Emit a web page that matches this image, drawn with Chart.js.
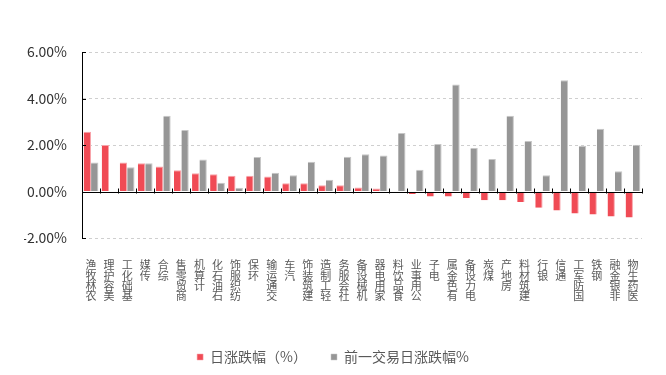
<!DOCTYPE html>
<html>
<head>
<meta charset="utf-8">
<script src="https://cdn.jsdelivr.net/npm/chart.js@4/dist/chart.umd.min.js"></script>
<style>
  html, body { margin:0; padding:0; background:#fff; }
  #wrap { width:666px; height:375px; }
</style>
</head>
<body>
<div id="wrap"><canvas id="c"></canvas></div>
<script>
// 行业涨跌幅 — 当日 vs 前一交易日
const CATEGORIES = ['农林牧渔','美容护理','基础化工','传媒','综合','商贸零售','计算机','石油石化',
  '纺织服饰','环保','交通运输','汽车','建筑装饰','轻工制造','社会服务','机械设备','家用电器',
  '食品饮料','公用事业','电子','有色金属','电力设备','煤炭','房地产','建筑材料','银行','通信',
  '国防军工','钢铁','非银金融','医药生物'];

const DAY_CHANGE = [2.57, 2.00, 1.25, 1.21, 1.08, 0.91, 0.78, 0.74, 0.68, 0.68, 0.65, 0.35,
  0.35, 0.27, 0.27, 0.17, 0.13, -0.06, -0.11, -0.21, -0.21, -0.28, -0.38, -0.38, -0.45,
  -0.70, -0.82, -0.95, -0.99, -1.08, -1.12];

const PREV_CHANGE = [1.25, 0, 1.04, 1.21, 3.26, 2.65, 1.38, 0.38, 0.16, 1.48, 0.81, 0.70,
  1.28, 0.51, 1.50, 1.60, 1.55, 2.52, 0.94, 2.04, 4.60, 1.87, 1.40, 3.26, 2.17,
  0.70, 4.79, 1.97, 2.70, 0.87, 2.01];

const Y_TICKS = [-2, 0, 2, 4, 6];

const FONT = "'Noto Sans CJK SC', 'Noto Sans', sans-serif";

// labels read bottom-to-top with upright characters -> one char per line, reversed
const stackedLabels = CATEGORIES.map(s => s.split('').reverse());

// zero line + small category ticks on it
const zeroAxis = {
  id: 'zeroAxis',
  afterDatasetsDraw(chart) {
    const {ctx, scales:{x, y}, chartArea} = chart;
    const y0 = Math.round(y.getPixelForValue(0)) + 0.5;
    ctx.save();
    ctx.strokeStyle = '#000';
    ctx.lineWidth = 1;
    ctx.beginPath();
    ctx.moveTo(chartArea.left, y0);
    ctx.lineTo(chartArea.right, y0);
    const n = CATEGORIES.length;
    for (let i = 1; i <= n; i++) {
      const px = i < n
        ? (x.getPixelForTick(i - 1) + x.getPixelForTick(i)) / 2
        : chartArea.right;
      const xx = Math.round(px) + 0.5;
      ctx.moveTo(xx, y0 - 4);
      ctx.lineTo(xx, y0 + 1);
    }
    // short inward ticks on the y axis
    Y_TICKS.forEach(v => {
      const yy = Math.round(y.getPixelForValue(v)) + 0.5;
      ctx.moveTo(chartArea.left, yy);
      ctx.lineTo(chartArea.left + 4, yy);
    });
    ctx.stroke();
    ctx.restore();
  }
};

new Chart(document.getElementById('c'), {
  type: 'bar',
  data: {
    labels: stackedLabels,
    datasets: [
      { label: '日涨跌幅（%）', data: DAY_CHANGE,
        backgroundColor: '#F04B55', borderColor: '#F8A3A9',
        borderWidth: { top: 1, right: 1 }, borderSkipped: false },
      { label: '前一交易日涨跌幅%', data: PREV_CHANGE,
        backgroundColor: '#969696', borderColor: '#C6C6C6',
        borderWidth: { top: 1, right: 1 }, borderSkipped: false }
    ]
  },
  options: {
    responsive: true,
    maintainAspectRatio: false,
    animation: false,
    categoryPercentage: 0.82,
    barPercentage: 0.99,
    layout: { padding: { left: 24, right: 24, top: 52, bottom: 1 } },
    plugins: {
      legend: {
        position: 'bottom',
        labels: {
          boxWidth: 6, boxHeight: 6, padding: 24,
          color: '#595959', font: { family: FONT, size: 14 }
        }
      },
      tooltip: { enabled: false }
    },
    scales: {
      x: {
        grid: { display: false, drawTicks: false },
        border: { display: false },
        ticks: {
          autoSkip: false, maxRotation: 0, minRotation: 0, padding: 22,
          color: '#595959', font: { family: FONT, size: 11, lineHeight: 0.94 }
        },
        afterFit(s) { s.height = 88; }
      },
      y: {
        min: -2, max: 6,
        afterBuildTicks(s) { s.ticks = Y_TICKS.map(v => ({ value: v })); },
        grid: {
          drawTicks: false,
          color: c => c.tick && c.tick.value === 0 ? 'rgba(0,0,0,0)' : '#CFCFCF'
        },
        border: { display: true, color: '#000', width: 1, dash: [3, 3] },
        ticks: {
          padding: 15, color: '#333',
          font: { family: FONT, size: 14 },
          callback: v => v.toFixed(2) + '%'
        },
        afterFit(s) { s.width = 58; }
      }
    }
  },
  plugins: [zeroAxis]
});
</script>
</body>
</html>
